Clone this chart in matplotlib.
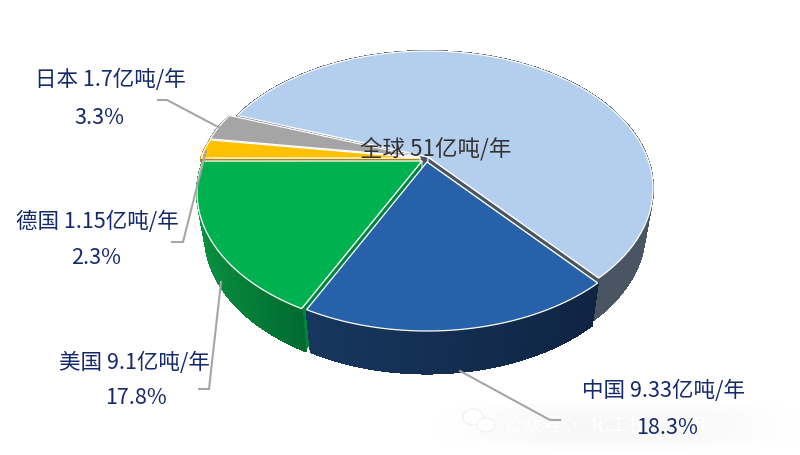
import numpy as np
import matplotlib
matplotlib.use("Agg")
import matplotlib.pyplot as plt
from matplotlib.patches import Polygon, Ellipse
from matplotlib.colors import to_rgb

plt.rcParams['font.family'] = ['Noto Sans CJK SC', 'DejaVu Sans']

# data: clockwise from the China / rest-of-world boundary
names = ["中国", "美国", "德国", "日本", "全球其他"]
amounts = ["9.33", "9.1", "1.15", "1.7"]
shares = [18.3, 17.8, 2.3, 3.3, 58.3]
percent_labels = ["18.3%", "17.8%", "2.3%", "3.3%"]
total_label = "全球 51亿吨/年"

top_colors = ["#2661aa", "#00b14f", "#ffc000", "#a5a5a5", "#b4cfee"]
side_left = ["#17375f", "#0a8f3f", "#b08500", "#777777", "#4a5564"]
side_right = ["#0f2442", "#006a30", "#b08500", "#777777", "#4a5564"]
wall_colors = ["#0f2442", "#00853c", "#b08500", "#777777", "#4a5564"]
offsets = [(2, 2), (-3, 1), (-5, -2), (-5, -3), (3, -3)]

START = -50.0
CX, CY = 425.0, 161.0
UP, DOWN, HALF_W = 106.0, 169.0, 225.0
K = (DOWN - UP) / (DOWN + UP)
B = UP * (1 + K)
A = HALF_W * np.sqrt(1 - K ** 2)
DEPTH = 42.5
SHRINK = 0.965


def project(theta, r=1.0):
    u, v = r * np.cos(theta), r * np.sin(theta)
    w = 1 + K * v
    return A * u / w, -B * v / w


fig = plt.figure(figsize=(8, 4.56), dpi=100)
ax = fig.add_axes([0, 0, 1, 1])

# faint watermark shading
yy, xx = np.mgrid[0:1:80j, 0:1:240j]
fade = np.exp(-(((xx - 0.5) / 0.36) ** 4 + ((yy - 0.62) / 0.26) ** 4))
rgba = np.zeros((80, 240, 4))
rgba[..., :3] = 0.72
rgba[..., 3] = fade * 0.10
ax.imshow(rgba, extent=(430, 810, 456, 380), aspect='auto', zorder=0)

# slice boundaries
edges = np.radians(START - np.cumsum([0] + shares) * 3.6)
draw_order = [4, 3, 2, 1, 0]

for i in draw_order:
    dx, dy = offsets[i]
    ox, oy = CX + dx, CY + dy
    t = np.linspace(edges[i], edges[i + 1], 90)
    px, py = project(t)
    top_x, top_y = ox + px, oy + py
    bot_x, bot_y = ox + SHRINK * px, oy + py + DEPTH

    # cut faces: the clockwise-start edge of each slice, both edges for the large slice
    wall_ends = (0, -1) if i == 4 else (0,)
    for k in wall_ends:
        ax.add_patch(Polygon([(ox, oy), (top_x[k], top_y[k]), (bot_x[k], bot_y[k]), (ox, oy + DEPTH)],
                             closed=True, fc=wall_colors[i], ec="#eeeeee", lw=0.8, zorder=2))

    # outer rim with a left-to-right shade
    cl, cr = np.array(to_rgb(side_left[i])), np.array(to_rgb(side_right[i]))
    span = max(top_x.max() - top_x.min(), 1)
    for j in range(len(t) - 1):
        f = (0.5 * (top_x[j] + top_x[j + 1]) - top_x.min()) / span
        col = cl * (1 - f) + cr * f
        ax.add_patch(Polygon([(top_x[j], top_y[j]), (top_x[j + 1], top_y[j + 1]),
                              (bot_x[j + 1], bot_y[j + 1]), (bot_x[j], bot_y[j])],
                             closed=True, fc=col, ec=col, lw=0.8, antialiased=False, zorder=2))

    # top face
    verts = [(ox, oy)] + list(zip(top_x, top_y))
    ax.add_patch(Polygon(verts, closed=True, fc=top_colors[i], ec="white", lw=0.9, zorder=2))

# leader lines
leaders = [
    ([460, 550, 560], [372, 421, 421]),
    ([199, 209, 221], [390, 390, 283]),
    ([172, 183, 206], [243, 243, 152]),
    ([158, 167, 220], [101, 101, 129]),
]
for lx, ly in leaders:
    ax.plot(lx, ly, color="#a6a6a6", lw=1.5, zorder=3, solid_joinstyle='miter')

# labels
NAVY = "#14296b"
FS = 15.5
name_xy = [(663, 391), (134, 363), (97, 222), (110, 80)]
pct_xy = [(667, 428), (136, 398), (96, 258), (99, 118)]
for i in range(4):
    ax.text(*name_xy[i], f"{names[i]} {amounts[i]}亿吨/年", color=NAVY, fontsize=FS,
            ha='center', va='center', zorder=5)
    ax.text(*pct_xy[i], percent_labels[i], color=NAVY, fontsize=FS,
            ha='center', va='center', zorder=5)
ax.text(435.5, 149, total_label, color="#333333", fontsize=16.2, ha='center', va='center', zorder=5)

# watermark
ax.add_patch(Ellipse((473, 418), 20, 16, fc="white", ec="#e8e8e8", lw=0.5, zorder=1))
ax.add_patch(Ellipse((486, 426), 18, 14, fc="white", ec="#e8e8e8", lw=0.5, zorder=1))
ax.text(503, 425, "公众号 · 化工技术交流", color="white", fontsize=14, ha='left', va='center', zorder=1)

ax.set_xlim(0, 800)
ax.set_ylim(456, 0)
ax.axis('off')
fig.savefig("out.png", dpi=100, facecolor="white")
